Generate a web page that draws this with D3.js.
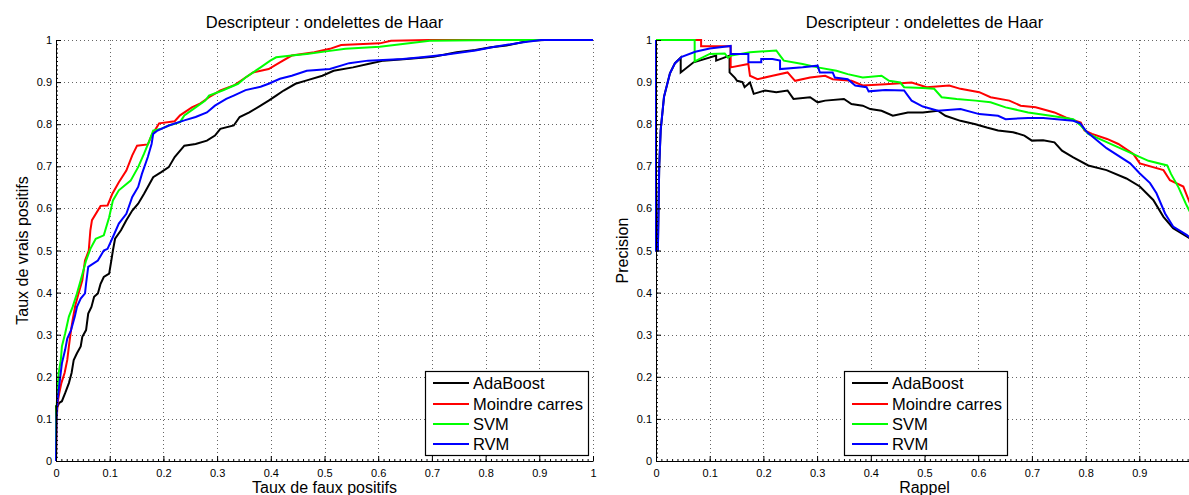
<!DOCTYPE html>
<html><head><meta charset="utf-8">
<script src="https://cdn.jsdelivr.net/npm/d3@7"></script>
<style>
body{margin:0;background:#fff}
text{font-family:"Liberation Sans",Arial,sans-serif;fill:#000}
</style>
</head><body>
<svg id="c" width="1189" height="495"></svg>
<script>
const seriesNames = ["AdaBoost", "Moindre carres", "SVM", "RVM"];
const seriesColors = ["#000000", "#ff0000", "#00ff00", "#0000ff"];

// ROC curves [taux de faux positifs, taux de vrais positifs]
const rocAdaBoost = [[0,0],[0,0.13],[0.003,0.13],[0.006,0.138],[0.011,0.142],[0.017,0.161],[0.024,0.185],[0.029,0.209],[0.033,0.24],[0.039,0.256],[0.046,0.272],[0.049,0.295],[0.056,0.311],[0.06,0.35],[0.066,0.366],[0.071,0.39],[0.078,0.398],[0.083,0.421],[0.089,0.437],[0.099,0.445],[0.103,0.476],[0.106,0.5],[0.11,0.528],[0.121,0.548],[0.131,0.572],[0.142,0.595],[0.153,0.611],[0.164,0.635],[0.174,0.658],[0.181,0.674],[0.196,0.686],[0.21,0.698],[0.221,0.722],[0.239,0.749],[0.26,0.753],[0.281,0.761],[0.296,0.773],[0.306,0.789],[0.331,0.797],[0.342,0.817],[0.36,0.828],[0.381,0.844],[0.396,0.856],[0.41,0.868],[0.424,0.88],[0.446,0.896],[0.467,0.904],[0.496,0.915],[0.517,0.927],[0.553,0.935],[0.581,0.943],[0.61,0.951],[0.653,0.955],[0.703,0.96],[0.746,0.971],[0.781,0.976],[0.81,0.983],[0.839,0.987],[0.881,0.998],[0.91,1],[1,1]];
const rocMoindre = [[0,0],[0.001,0.09],[0.003,0.138],[0.006,0.161],[0.01,0.185],[0.016,0.209],[0.021,0.24],[0.024,0.272],[0.028,0.311],[0.031,0.335],[0.036,0.37],[0.042,0.398],[0.049,0.429],[0.054,0.476],[0.061,0.5],[0.064,0.548],[0.067,0.572],[0.083,0.606],[0.096,0.607],[0.105,0.635],[0.117,0.662],[0.131,0.69],[0.142,0.726],[0.151,0.749],[0.171,0.752],[0.178,0.773],[0.192,0.802],[0.221,0.807],[0.231,0.821],[0.253,0.84],[0.267,0.848],[0.285,0.864],[0.306,0.88],[0.331,0.892],[0.353,0.911],[0.367,0.923],[0.396,0.931],[0.417,0.947],[0.439,0.963],[0.481,0.971],[0.51,0.979],[0.531,0.988],[0.603,0.992],[0.624,0.998],[0.696,1],[1,1]];
const rocSVM = [[0,0],[0,0.067],[0.001,0.122],[0.003,0.177],[0.005,0.209],[0.009,0.24],[0.011,0.272],[0.017,0.303],[0.024,0.343],[0.031,0.366],[0.039,0.398],[0.046,0.429],[0.056,0.476],[0.064,0.504],[0.074,0.528],[0.089,0.536],[0.099,0.579],[0.106,0.619],[0.117,0.643],[0.139,0.666],[0.153,0.698],[0.164,0.73],[0.174,0.761],[0.181,0.785],[0.196,0.789],[0.21,0.797],[0.231,0.805],[0.239,0.821],[0.26,0.84],[0.278,0.856],[0.285,0.868],[0.31,0.88],[0.339,0.896],[0.353,0.911],[0.381,0.935],[0.399,0.951],[0.41,0.959],[0.439,0.963],[0.467,0.967],[0.503,0.973],[0.539,0.979],[0.603,0.984],[0.696,0.998],[0.824,1],[1,1]];
const rocRVM = [[0,0],[0.001,0.106],[0.003,0.146],[0.008,0.201],[0.011,0.232],[0.017,0.264],[0.021,0.291],[0.028,0.311],[0.035,0.343],[0.039,0.366],[0.046,0.386],[0.054,0.398],[0.056,0.421],[0.06,0.461],[0.078,0.476],[0.089,0.5],[0.096,0.504],[0.106,0.532],[0.117,0.564],[0.131,0.587],[0.142,0.627],[0.153,0.651],[0.16,0.682],[0.171,0.722],[0.178,0.753],[0.181,0.777],[0.189,0.785],[0.21,0.797],[0.239,0.809],[0.26,0.817],[0.281,0.828],[0.296,0.844],[0.317,0.86],[0.331,0.868],[0.353,0.881],[0.381,0.889],[0.396,0.896],[0.417,0.908],[0.439,0.915],[0.467,0.927],[0.51,0.931],[0.546,0.945],[0.581,0.951],[0.646,0.955],[0.681,0.959],[0.724,0.965],[0.781,0.975],[0.817,0.984],[0.867,0.994],[0.903,1],[1,1]];

// Precision-recall curves [rappel, precision]
const prAdaBoost = [[0,1],[0,0.5],[0.0035,0.5],[0.006,0.7],[0.0087,0.786],[0.0149,0.865],[0.026,0.921],[0.0354,0.945],[0.046,0.958],[0.046,0.923],[0.07,0.947],[0.112,0.963],[0.112,0.951],[0.137,0.963],[0.137,0.923],[0.147,0.91],[0.151,0.903],[0.161,0.9],[0.165,0.888],[0.175,0.899],[0.182,0.872],[0.203,0.88],[0.224,0.876],[0.245,0.88],[0.256,0.86],[0.287,0.864],[0.301,0.852],[0.315,0.856],[0.35,0.86],[0.364,0.848],[0.385,0.844],[0.399,0.836],[0.42,0.832],[0.441,0.82],[0.469,0.828],[0.497,0.828],[0.525,0.832],[0.539,0.82],[0.567,0.808],[0.595,0.8],[0.616,0.792],[0.637,0.785],[0.665,0.781],[0.686,0.773],[0.7,0.761],[0.721,0.762],[0.742,0.757],[0.756,0.737],[0.777,0.721],[0.805,0.702],[0.839,0.691],[0.876,0.671],[0.901,0.652],[0.926,0.62],[0.945,0.58],[0.963,0.553],[0.995,0.528]];
const prMoindre = [[0,1],[0.084,1],[0.084,0.985],[0.139,0.985],[0.139,0.935],[0.172,0.943],[0.175,0.915],[0.189,0.907],[0.217,0.915],[0.245,0.923],[0.259,0.903],[0.287,0.911],[0.315,0.915],[0.329,0.907],[0.364,0.903],[0.385,0.892],[0.427,0.895],[0.476,0.899],[0.504,0.888],[0.546,0.892],[0.567,0.884],[0.602,0.876],[0.623,0.864],[0.658,0.856],[0.679,0.844],[0.707,0.84],[0.742,0.828],[0.763,0.816],[0.791,0.804],[0.798,0.785],[0.812,0.777],[0.84,0.765],[0.861,0.753],[0.889,0.729],[0.901,0.707],[0.945,0.691],[0.957,0.667],[0.982,0.652],[0.995,0.61]];
const prSVM = [[0,1],[0.072,1],[0.072,0.949],[0.1,0.967],[0.128,0.968],[0.134,0.958],[0.14,0.963],[0.175,0.971],[0.224,0.975],[0.231,0.963],[0.238,0.951],[0.273,0.943],[0.301,0.935],[0.336,0.927],[0.357,0.919],[0.385,0.911],[0.42,0.915],[0.434,0.903],[0.455,0.899],[0.462,0.888],[0.497,0.886],[0.518,0.884],[0.532,0.864],[0.56,0.86],[0.595,0.856],[0.623,0.852],[0.651,0.84],[0.693,0.828],[0.735,0.82],[0.777,0.812],[0.791,0.797],[0.805,0.777],[0.833,0.761],[0.861,0.745],[0.889,0.729],[0.917,0.713],[0.952,0.702],[0.959,0.682],[0.973,0.65],[0.987,0.61],[0.995,0.59]];
const prRVM = [[0,1],[0,0.5],[0.0035,0.5],[0.006,0.7],[0.0087,0.786],[0.0149,0.865],[0.026,0.921],[0.0354,0.945],[0.048,0.96],[0.073,0.972],[0.1,0.98],[0.139,0.986],[0.139,0.967],[0.172,0.967],[0.172,0.947],[0.196,0.947],[0.196,0.955],[0.217,0.955],[0.231,0.951],[0.231,0.931],[0.273,0.935],[0.301,0.939],[0.305,0.923],[0.329,0.923],[0.333,0.911],[0.357,0.907],[0.371,0.892],[0.392,0.888],[0.396,0.878],[0.427,0.881],[0.462,0.88],[0.469,0.868],[0.476,0.856],[0.497,0.842],[0.525,0.832],[0.567,0.836],[0.602,0.824],[0.637,0.82],[0.651,0.812],[0.693,0.815],[0.721,0.815],[0.777,0.808],[0.79,0.802],[0.802,0.782],[0.821,0.762],[0.839,0.743],[0.883,0.707],[0.901,0.683],[0.92,0.66],[0.932,0.636],[0.948,0.588],[0.963,0.557],[0.988,0.537],[0.995,0.53]];

const tickValues = [0,0.1,0.2,0.3,0.4,0.5,0.6,0.7,0.8,0.9,1];
const xTickLabelsLeft = ["0","0.1","0.2","0.3","0.4","0.5","0.6","0.7","0.8","0.9","1"];
const xTickLabelsRight = ["0","0.1","0.2","0.3","0.4","0.5","0.6","0.7","0.8","0.9",""];
const yTickLabels = ["0","0.1","0.2","0.3","0.4","0.5","0.6","0.7","0.8","0.9","1"];
const titleText = "Descripteur : ondelettes de Haar";

const svg = d3.select("#c");
svg.append("rect").attr("width",1189).attr("height",495).attr("fill","#fff");

function panel(cfg){
  const x = d3.scaleLinear().domain([0,1]).range([cfg.x0, cfg.x0+537]);
  const y = d3.scaleLinear().domain([0,1]).range([461, 40]);
  const g = svg.append("g");
  // grid
  const grid = g.append("g").attr("stroke","#666").attr("stroke-width",1).attr("stroke-dasharray","1,3").attr("fill","none");
  tickValues.filter(v=>v>0).forEach(v=>{
    grid.append("line").attr("x1",Math.round(x(v))+0.5).attr("x2",Math.round(x(v))+0.5).attr("y1",y(0)).attr("y2",y(1));
    grid.append("line").attr("y1",Math.round(y(v))+0.5).attr("y2",Math.round(y(v))+0.5).attr("x1",x(0)).attr("x2",x(1));
  });
  // curves
  const line = d3.line().x(d=>x(d[0])).y(d=>y(d[1]));
  cfg.series.forEach((s,i)=>{
    g.append("path").datum(s).attr("d",line).attr("fill","none")
      .attr("stroke",seriesColors[i]).attr("stroke-width",2).attr("stroke-linejoin","miter");
  });
  // minor ticks
  const minor = d3.range(0,101).map(k=>k/100);
  g.append("g").attr("transform","translate(0,461)")
    .call(d3.axisBottom(x).tickValues(minor).tickSize(-2).tickFormat(""))
    .call(a=>a.select(".domain").remove()).selectAll("line").attr("stroke","#000");
  g.append("g").attr("transform",`translate(${cfg.x0},0)`)
    .call(d3.axisLeft(y).tickValues(minor).tickSize(-2).tickFormat(""))
    .call(a=>a.select(".domain").remove()).selectAll("line").attr("stroke","#000");
  // major axes
  const xa = g.append("g").attr("transform","translate(0,461)")
    .call(d3.axisBottom(x).tickValues(tickValues).tickSizeInner(-5).tickSizeOuter(0).tickPadding(8)
      .tickFormat((d,i)=>cfg.xLabels[i]));
  const ya = g.append("g").attr("transform",`translate(${cfg.x0},0)`)
    .call(d3.axisLeft(y).tickValues(tickValues).tickSizeInner(-5).tickSizeOuter(0).tickPadding(4)
      .tickFormat((d,i)=>yTickLabels[i]));
  [xa,ya].forEach(a=>{
    a.selectAll("text").attr("font-size",11).attr("font-family",null).style("fill","#000");
    a.selectAll("line").attr("stroke","#000");
    a.select(".domain").attr("stroke","#000");
  });
  // title and labels
  g.append("text").attr("x",(x(0)+x(1))/2).attr("y",28).attr("text-anchor","middle")
    .attr("font-size",16.5).text(titleText);
  g.append("text").attr("x",(x(0)+x(1))/2).attr("y",493).attr("text-anchor","middle")
    .attr("font-size",16).text(cfg.xTitle);
  g.append("text").attr("transform",`translate(${cfg.x0-28},${(y(0)+y(1))/2}) rotate(-90)`)
    .attr("text-anchor","middle").attr("font-size",16).text(cfg.yTitle);
  // legend
  const lg = g.append("g");
  lg.append("rect").attr("x",cfg.lx+0.5).attr("y",371.5).attr("width",163).attr("height",84)
    .attr("fill","#fff").attr("stroke","#000").attr("stroke-width",1.2);
  const rows = [383,404,424,444];
  seriesNames.forEach((n,i)=>{
    lg.append("line").attr("x1",cfg.lx+8).attr("x2",cfg.lx+44).attr("y1",rows[i]).attr("y2",rows[i])
      .attr("stroke",seriesColors[i]).attr("stroke-width",2);
    lg.append("text").attr("x",cfg.lx+48).attr("y",rows[i]+6).attr("font-size",16.5).text(n);
  });
}

panel({x0:56, series:[rocAdaBoost,rocMoindre,rocSVM,rocRVM], xLabels:xTickLabelsLeft,
  xTitle:"Taux de faux positifs", yTitle:"Taux de vrais positifs", lx:425});
panel({x0:656, series:[prAdaBoost,prMoindre,prSVM,prRVM], xLabels:xTickLabelsRight,
  xTitle:"Rappel", yTitle:"Precision", lx:844});
</script>
</body></html>
